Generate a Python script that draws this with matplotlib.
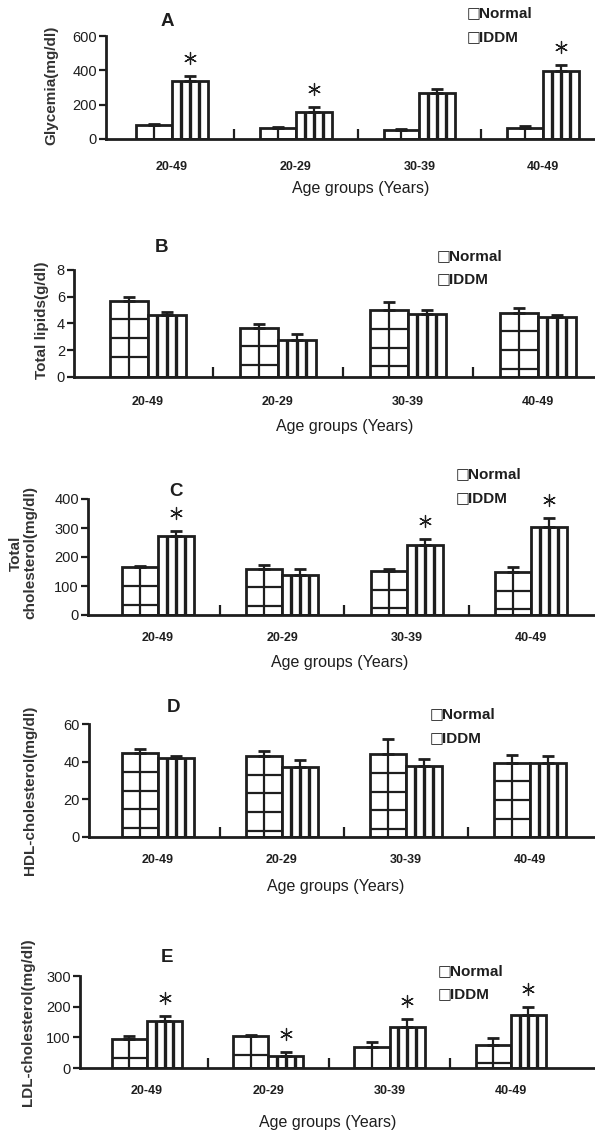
import numpy as np
import matplotlib.pyplot as plt

groups = ['20-49', '20-29', '30-39', '40-49']

# A - glycemia (mg/dl)
glyc_normal = [80, 63, 55, 66]
glyc_normal_err = [5, 5, 5, 10]
glyc_iddm = [340, 160, 268, 398]
glyc_iddm_err = [25, 25, 23, 35]
glyc_sig = [0, 1, 3]

# B - total lipids (g/dl)
lip_normal = [5.7, 3.7, 5.0, 4.8]
lip_normal_err = [0.3, 0.27, 0.6, 0.34]
lip_iddm = [4.64, 2.8, 4.7, 4.46]
lip_iddm_err = [0.22, 0.42, 0.3, 0.18]
lip_sig = []

# C - total cholesterol (mg/dl)
chol_normal = [164, 160, 152, 148]
chol_normal_err = [5, 13, 8, 17]
chol_iddm = [271, 138, 242, 305]
chol_iddm_err = [17, 21, 21, 28]
chol_sig = [0, 2, 3]

# D - HDL cholesterol (mg/dl)
hdl_normal = [44.4, 43.0, 44.0, 39.5]
hdl_normal_err = [2.3, 2.9, 8.1, 4.1]
hdl_iddm = [41.7, 37.0, 37.7, 39.5]
hdl_iddm_err = [1.5, 3.9, 3.7, 3.7]
hdl_sig = []

# E - LDL cholesterol (mg/dl)
ldl_normal = [94, 103, 70, 76]
ldl_normal_err = [9, 5, 16, 21]
ldl_iddm = [154, 40, 135, 173]
ldl_iddm_err = [16, 12, 25, 25]
ldl_sig = [0, 1, 2, 3]

W, H = 595, 1132
INK = '#1e1e1e'
plt.rcParams['font.family'] = ['Liberation Sans', 'DejaVu Sans']

fig = plt.figure(figsize=(W / 100, H / 100), dpi=100)
fig.patch.set_facecolor('white')


def fx(x):
    return x / W


def fy(y):
    return 1 - y / H


def legend_row(x, y, name):
    # hollow square drawn with DejaVu (larger glyph), name next to it
    fig.text(fx(x - 1), fy(y), '\u25a1', fontsize=10.5, family='DejaVu Sans', color=INK,
             ha='left', va='center')
    fig.text(fx(x + 11), fy(y), name, fontsize=11, fontweight='bold', color=INK,
             ha='left', va='center')


def panel(letter, normal, nerr, iddm, ierr, sig, ymax, ystep, ylabel, lay):
    spine, c0, sp, top, base = lay['axes']
    ax = fig.add_axes([fx(spine), fy(base), fx(595 - spine), (base - top) / H])
    x = np.arange(len(groups))
    w = 0.29
    upp = ymax / (base - top)  # data units per pixel

    normal = np.array(normal)
    iddm = np.array(iddm)
    ierr = np.array(ierr)

    ax.bar(x - w / 2, normal, w, color='white', edgecolor=INK, linewidth=2.0, zorder=2)
    ax.bar(x + w / 2, iddm, w, color='white', edgecolor=INK, linewidth=2.0, zorder=2)

    # grid pattern inside Normal bars
    for xi, v in zip(x, normal):
        ax.vlines(xi - w / 2, 0, v, color=INK, lw=1.6, zorder=3)
        k = 1
        while v - k * 18.7 * upp > 3 * upp:
            ax.hlines(v - k * 18.7 * upp, xi - w, xi, color=INK, lw=1.6, zorder=3)
            k += 1
    # vertical stripes inside IDDM bars
    for xi, v in zip(x, iddm):
        for k in (1, 2, 3):
            ax.vlines(xi + w * k / 4, 0, v, color=INK, lw=2.4, zorder=3)

    ax.errorbar(x - w / 2, normal, yerr=[np.zeros(4), nerr], fmt='none', ecolor=INK,
                elinewidth=1.6, capsize=4.5, capthick=2.0, zorder=4)
    ax.errorbar(x + w / 2, iddm, yerr=[np.zeros(4), ierr], fmt='none', ecolor=INK,
                elinewidth=1.6, capsize=4.5, capthick=2.0, zorder=4)

    if sig:
        s = np.array(sig)
        ax.scatter(x[s] + w / 2, iddm[s] + ierr[s] + 18 * upp, marker=(6, 2, 0),
                   s=75, linewidths=0.9, color=INK, clip_on=False, zorder=5)

    ax.set_xlim((spine - c0) / sp, (595 - c0) / sp)
    ax.set_ylim(0, ymax)
    ax.set_yticks(np.arange(0, ymax + ystep / 2, ystep))
    ax.set_xticks(x, groups)
    ax.set_xticks(x[:-1] + 0.5, minor=True)
    for lab in ax.get_xticklabels():
        lab.set_fontweight('bold')
    ax.tick_params(axis='x', which='major', length=0, pad=lay.get('pad', 12),
                   labelsize=9, labelcolor=INK)
    ax.tick_params(axis='x', which='minor', direction='in', length=7, width=1.6, color=INK)
    ax.tick_params(axis='y', direction='out', length=5, width=1.6, color=INK,
                   labelsize=10.5, labelcolor=INK, pad=1.5)
    for side in ('top', 'right'):
        ax.spines[side].set_visible(False)
    for side in ('left', 'bottom'):
        ax.spines[side].set_linewidth(2.0)
        ax.spines[side].set_color(INK)
    ax.patch.set_alpha(0)

    tx, ty = lay['title']
    fig.text(fx(tx), fy(ty), letter, fontsize=13.5, fontweight='bold', color=INK,
             ha='center', va='center')
    lx, ly1, ly2 = lay['legend']
    legend_row(lx, ly1, 'Normal')
    legend_row(lx, ly2, 'IDDM')
    yx, yy = lay['ylabel']
    fig.text(fx(yx), fy(yy), ylabel, fontsize=11, fontweight='bold', color='#333333',
             rotation=90, ha='center', va='center', multialignment='center', linespacing=1.0)
    gx, gy = lay['xlabel']
    fig.text(fx(gx), fy(gy), 'Age groups (Years)', fontsize=11.5, color=INK,
             ha='center', va='center')


panel('A', glyc_normal, glyc_normal_err, glyc_iddm, glyc_iddm_err, glyc_sig,
      600, 200, 'Glycemia(mg/dl)',
      dict(axes=(106, 172, 123.7, 36, 139), title=(167, 22), legend=(468, 14, 38),
           ylabel=(51, 85), xlabel=(361, 188), pad=16))

panel('B', lip_normal, lip_normal_err, lip_iddm, lip_iddm_err, lip_sig,
      8, 2, 'Total lipids(g/dl)',
      dict(axes=(74, 148, 130, 270, 377), title=(161, 247), legend=(438, 257, 280),
           ylabel=(42, 320), xlabel=(345, 427), pad=14))

panel('C', chol_normal, chol_normal_err, chol_iddm, chol_iddm_err, chol_sig,
      400, 100, 'Total\ncholesterol(mg/dl)',
      dict(axes=(88, 158, 124.3, 499, 615), title=(176, 492), legend=(457, 475, 499),
           ylabel=(23, 553), xlabel=(340, 662)))

panel('D', hdl_normal, hdl_normal_err, hdl_iddm, hdl_iddm_err, hdl_sig,
      60, 20, 'HDL-cholesterol(mg/dl)',
      dict(axes=(89, 158, 124, 724, 837), title=(173, 707), legend=(431, 715, 739),
           ylabel=(30, 790), xlabel=(336, 887)))

panel('E', ldl_normal, ldl_normal_err, ldl_iddm, ldl_iddm_err, ldl_sig,
      300, 100, 'LDL-cholesterol(mg/dl)',
      dict(axes=(80, 147, 121.3, 976, 1068), title=(167, 957), legend=(439, 972, 995),
           ylabel=(28, 1022), xlabel=(328, 1122)))

fig.savefig('out.png', dpi=100, facecolor='white')
